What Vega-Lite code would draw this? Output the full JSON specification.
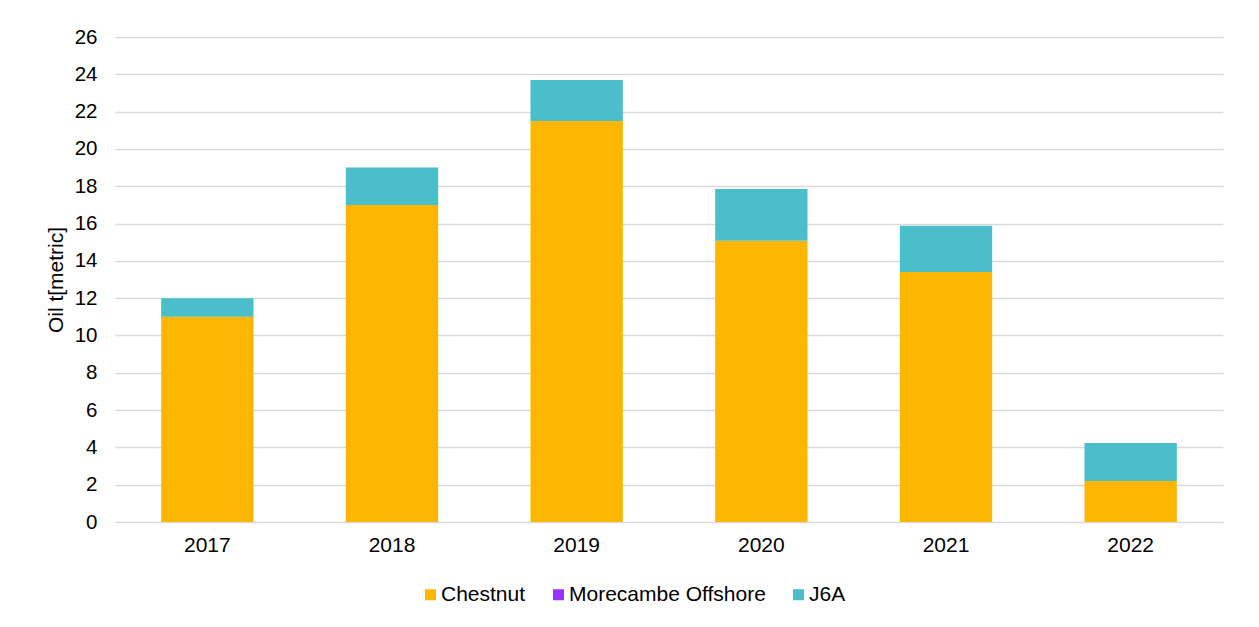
{
  "$schema": "https://vega.github.io/schema/vega-lite/v6.json",
  "width": 1108,
  "height": 485,
  "autosize": "none",
  "padding": {"left": 115, "top": 37, "right": 36, "bottom": 105},
  "background": "white",
  "config": {
    "view": {"stroke": null},
    "font": "Liberation Sans",
    "axis": {"labelFont": "Liberation Sans", "titleFont": "Liberation Sans", "labelColor": "#000000", "titleColor": "#000000"},
    "legend": {"labelFont": "Liberation Sans", "labelColor": "#000000"}
  },
  "data": {
    "values": [
      {"year": "2017", "field": "Chestnut", "oil": 11.0},
      {"year": "2017", "field": "Morecambe Offshore", "oil": 0},
      {"year": "2017", "field": "J6A", "oil": 1.0},
      {"year": "2018", "field": "Chestnut", "oil": 17.0},
      {"year": "2018", "field": "Morecambe Offshore", "oil": 0},
      {"year": "2018", "field": "J6A", "oil": 2.0},
      {"year": "2019", "field": "Chestnut", "oil": 21.5},
      {"year": "2019", "field": "Morecambe Offshore", "oil": 0},
      {"year": "2019", "field": "J6A", "oil": 2.2},
      {"year": "2020", "field": "Chestnut", "oil": 15.08},
      {"year": "2020", "field": "Morecambe Offshore", "oil": 0},
      {"year": "2020", "field": "J6A", "oil": 2.77},
      {"year": "2021", "field": "Chestnut", "oil": 13.4},
      {"year": "2021", "field": "Morecambe Offshore", "oil": 0},
      {"year": "2021", "field": "J6A", "oil": 2.48},
      {"year": "2022", "field": "Chestnut", "oil": 2.2},
      {"year": "2022", "field": "Morecambe Offshore", "oil": 0},
      {"year": "2022", "field": "J6A", "oil": 2.03}
    ]
  },
  "mark": {"type": "bar"},
  "encoding": {
    "x": {
      "field": "year",
      "type": "nominal",
      "scale": {"paddingInner": 0.5, "paddingOuter": 0.25},
      "axis": {
        "title": null,
        "labelAngle": 0,
        "labelFontSize": 21,
        "labelPadding": 12,
        "ticks": false,
        "domain": false,
        "grid": false
      }
    },
    "y": {
      "field": "oil",
      "type": "quantitative",
      "stack": "zero",
      "scale": {"domain": [0, 26], "nice": false},
      "axis": {
        "title": "Oil t[metric]",
        "titleFontSize": 21,
        "titleFontWeight": "normal",
        "titlePadding": 8,
        "values": [0, 2, 4, 6, 8, 10, 12, 14, 16, 18, 20, 22, 24, 26],
        "labelFontSize": 20.5,
        "labelPadding": 18,
        "ticks": false,
        "domain": false,
        "grid": true,
        "gridColor": "#D9D9D9",
        "gridWidth": 1.5
      }
    },
    "color": {
      "field": "field",
      "type": "nominal",
      "scale": {
        "domain": ["Chestnut", "Morecambe Offshore", "J6A"],
        "range": ["#FFB600", "#9933FF", "#4BBECB"]
      },
      "legend": {
        "title": null,
        "orient": "none",
        "direction": "horizontal",
        "legendX": 305,
        "legendY": 547,
        "padding": 0,
        "symbolType": "square",
        "symbolSize": 121,
        "symbolStrokeWidth": 0,
        "labelFontSize": 21,
        "labelOffset": 0,
        "labelLimit": 0,
        "columnPadding": 22
      }
    },
    "order": {"field": "field", "type": "nominal", "sort": "ascending"}
  }
}
